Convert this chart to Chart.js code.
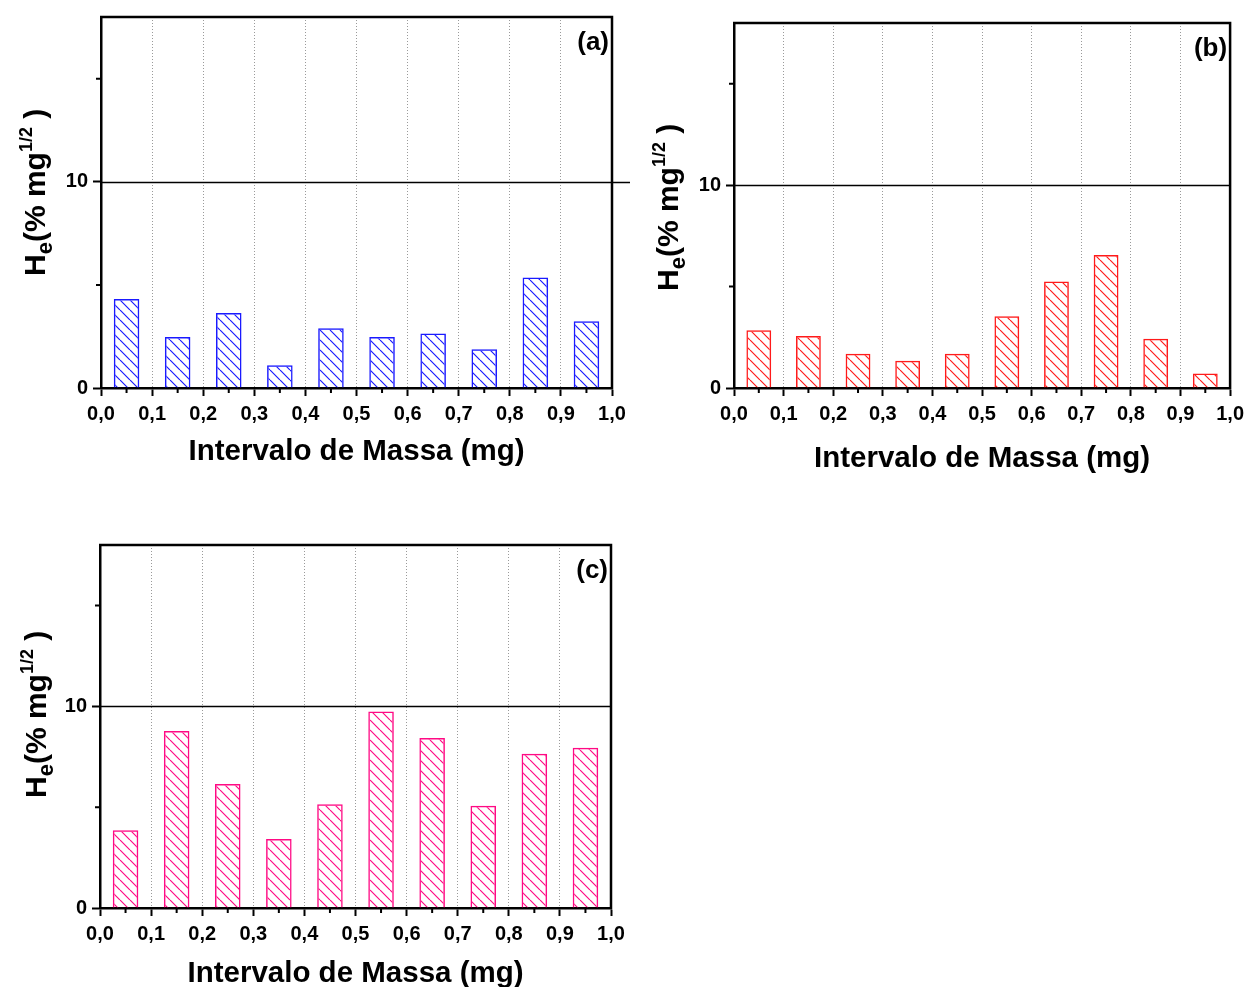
<!DOCTYPE html>
<html>
<head>
<meta charset="utf-8">
<script src="https://cdn.jsdelivr.net/npm/chart.js@4.4.1/dist/chart.umd.min.js"></script>
<style>
  html, body { margin: 0; padding: 0; background: #fff; }
  body { width: 1250px; height: 987px; position: relative; overflow: hidden; }
  canvas { position: absolute; }
</style>
</head>
<body>
<canvas id="chartA" width="640" height="490" style="left:0px;top:0px"></canvas>
<canvas id="chartB" width="630" height="490" style="left:620px;top:0px"></canvas>
<canvas id="chartC" width="640" height="487" style="left:0px;top:500px"></canvas>
<script>
// mass intervals (bar centres, mg)
const massBins = [0.05, 0.15, 0.25, 0.35, 0.45, 0.55, 0.65, 0.75, 0.85, 0.95];

// He (% mg^1/2) per interval
const heA = [4.32, 2.48, 3.64, 1.10, 2.90, 2.48, 2.64, 1.88, 5.36, 3.24];
const heB = [2.85, 2.57, 1.69, 1.34, 1.69, 3.54, 5.25, 6.56, 2.43, 0.72];
const heC = [3.85, 8.78, 6.15, 3.42, 5.14, 9.75, 8.43, 5.07, 7.65, 7.95];

// axes
const xTickValues = [0, 0.1, 0.2, 0.3, 0.4, 0.5, 0.6, 0.7, 0.8, 0.9, 1.0];
const xTickLabels = ["0,0", "0,1", "0,2", "0,3", "0,4", "0,5", "0,6", "0,7", "0,8", "0,9", "1,0"];
const xMinorTicks = [0.05, 0.15, 0.25, 0.35, 0.45, 0.55, 0.65, 0.75, 0.85, 0.95];
const yTickValues = [0, 10];
const yMinorTicks = [5, 15];
const yMax = 18;
const refLevel = 10;

const FONT = "'Liberation Sans', Arial, sans-serif";

function hatch(ctx, color) {
  const s = 10;
  const c = document.createElement("canvas");
  c.width = s; c.height = s;
  const g = c.getContext("2d");
  g.strokeStyle = color;
  g.lineWidth = 1.2;
  g.beginPath();
  for (const o of [-s, 0, s]) { g.moveTo(o, 0); g.lineTo(o + s, s); }
  g.stroke();
  return ctx.createPattern(c, "repeat");
}

// draw a run of text pieces (for sub/superscripts)
function richText(ctx, parts, x, y, rotate) {
  ctx.save();
  ctx.translate(x, y);
  if (rotate) ctx.rotate(-Math.PI / 2);
  ctx.textBaseline = "alphabetic";
  ctx.textAlign = "left";
  let cx = 0;
  parts.forEach(p => {
    ctx.font = "bold " + p.size + "px " + FONT;
    ctx.fillText(p.t, cx, p.dy || 0);
    cx += ctx.measureText(p.t).width;
  });
  ctx.restore();
}

const yTitleParts = [
  { t: "H", size: 30 },
  { t: "e", size: 22, dy: 7 },
  { t: "(% mg", size: 30 },
  { t: "1/2", size: 18, dy: -13 },
  { t: " )", size: 30 }
];

function makePanel(id, values, color, spec) {
  const canvas = document.getElementById(id);
  const ctx = canvas.getContext("2d");
  const W = canvas.width, H = canvas.height;
  const a = spec.area;

  const decor = {
    id: "decor" + id,
    afterDraw(chart) {
      const { ctx, chartArea: ca, scales: { x, y } } = chart;
      ctx.save();
      ctx.strokeStyle = "#000";
      // minor ticks
      ctx.lineWidth = 2;
      ctx.beginPath();
      xMinorTicks.forEach(v => {
        const px = x.getPixelForValue(v);
        ctx.moveTo(px, ca.bottom);
        ctx.lineTo(px, ca.bottom + 5);
      });
      yMinorTicks.forEach(v => {
        const py = y.getPixelForValue(v);
        ctx.moveTo(ca.left, py);
        ctx.lineTo(ca.left - 5, py);
      });
      ctx.stroke();
      // top + right frame
      ctx.lineWidth = 2.5;
      ctx.beginPath();
      ctx.moveTo(ca.left - 1, ca.top);
      ctx.lineTo(ca.right, ca.top);
      ctx.lineTo(ca.right, ca.bottom + 1);
      ctx.stroke();
      // reference line at 10
      const ry = Math.round(y.getPixelForValue(refLevel)) + 0.5;
      ctx.lineWidth = 1.5;
      ctx.beginPath();
      ctx.moveTo(ca.left, ry);
      ctx.lineTo(ca.right + spec.refExt, ry);
      ctx.stroke();
      // panel letter
      ctx.fillStyle = "#000";
      ctx.font = "bold 26px " + FONT;
      ctx.textAlign = "right";
      ctx.textBaseline = "alphabetic";
      ctx.fillText(spec.letter, ca.right - 3, ca.top + 33);
      // x title
      ctx.font = "bold 29.5px " + FONT;
      ctx.textAlign = "center";
      ctx.fillText("Intervalo de Massa (mg)", (ca.left + ca.right) / 2, spec.xTitleY);
      ctx.restore();
      // y title
      ctx.save();
      ctx.fillStyle = "#000";
      richText(ctx, yTitleParts, spec.yTitleX, spec.yTitleY, true);
      ctx.restore();
    }
  };

  return new Chart(ctx, {
    type: "bar",
    data: {
      datasets: [{
        data: massBins.map((m, i) => ({ x: m, y: values[i] })),
        backgroundColor: hatch(ctx, color),
        borderColor: color,
        borderWidth: 1.5,
        barPercentage: 0.5,
        categoryPercentage: 1.0
      }]
    },
    options: {
      responsive: false,
      animation: false,
      devicePixelRatio: 1,
      layout: { padding: { left: 0, top: a.top, right: W - a.right, bottom: 0 } },
      plugins: { legend: { display: false }, tooltip: { enabled: false } },
      scales: {
        x: {
          type: "linear",
          min: 0, max: 1,
          offset: false,
          afterFit: s => { s.height = H - a.bottom; },
          afterBuildTicks: s => { s.ticks = xTickValues.map(v => ({ value: v })); },
          grid: {
            offset: false,
            color: "#9a9a9a",
            lineWidth: 1,
            tickLength: 8,
            tickColor: "#000",
            tickWidth: 2
          },
          border: { color: "#000", width: 2.5, dash: [1, 2] },
          ticks: {
            autoSkip: false,
            maxRotation: 0,
            padding: 6,
            color: "#000",
            font: { family: FONT, weight: "bold", size: 20 },
            callback: (v, i) => xTickLabels[i]
          }
        },
        y: {
          min: 0, max: yMax,
          afterFit: s => { s.width = a.left; },
          afterBuildTicks: s => { s.ticks = yTickValues.map(v => ({ value: v })); },
          grid: {
            drawOnChartArea: false,
            tickLength: 8,
            tickColor: "#000",
            tickWidth: 2
          },
          border: { color: "#000", width: 2.5 },
          ticks: {
            padding: 5,
            color: "#000",
            font: { family: FONT, weight: "bold", size: 20 },
            callback: v => String(v)
          }
        }
      }
    },
    plugins: [decor]
  });
}

makePanel("chartA", heA, "#1a1aff", {
  letter: "(a)",
  area: { left: 101, right: 612, top: 17, bottom: 388 },
  refExt: 18, xTitleY: 460, yTitleX: 45, yTitleY: 276
});
makePanel("chartB", heB, "#ff1a1a", {
  letter: "(b)",
  area: { left: 114, right: 613, top: 23, bottom: 388 },
  refExt: 0, xTitleY: 467, yTitleX: 58, yTitleY: 291
});
makePanel("chartC", heC, "#ff0a84", {
  letter: "(c)",
  area: { left: 100, right: 611, top: 45, bottom: 408 },
  refExt: 0, xTitleY: 482, yTitleX: 46, yTitleY: 298
});
</script>
</body>
</html>
